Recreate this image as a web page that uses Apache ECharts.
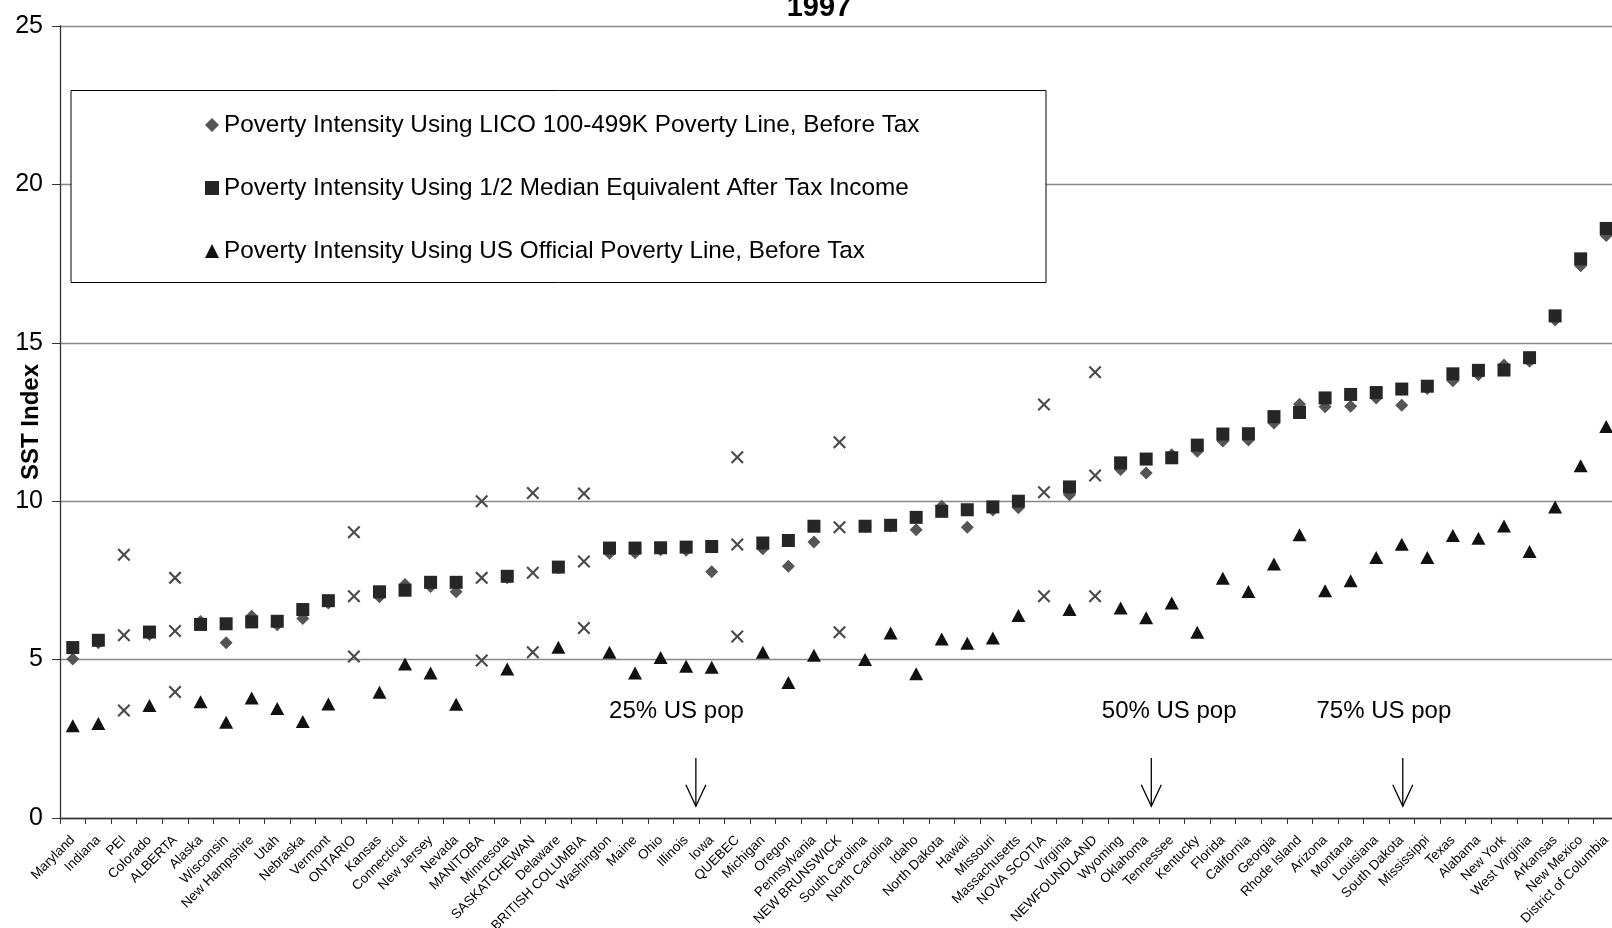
<!DOCTYPE html>
<html><head><meta charset="utf-8">
<script src="https://cdn.jsdelivr.net/npm/echarts@6/dist/echarts.min.js"></script>
<style>html,body{margin:0;padding:0;background:#fff}#c{width:1612px;height:928px}</style>
</head><body><div id="c"></div>
<script>
const chartTitle = '1997';
const yAxisName = 'SST Index';
const categories = ['Maryland','Indiana','PEI','Colorado','ALBERTA','Alaska','Wisconsin','New Hampshire','Utah','Nebraska','Vermont','ONTARIO','Kansas','Connecticut','New Jersey','Nevada','MANITOBA','Minnesota','SASKATCHEWAN','Delaware','BRITISH COLUMBIA','Washington','Maine','Ohio','Illinois','Iowa','QUEBEC','Michigan','Oregon','Pennsylvania','NEW BRUNSWICK','South Carolina','North Carolina','Idaho','North Dakota','Hawaii','Missouri','Massachusetts','NOVA SCOTIA','Virginia','NEWFOUNDLAND','Wyoming','Oklahoma','Tennessee','Kentucky','Florida','California','Georgia','Rhode Island','Arizona','Montana','Louisiana','South Dakota','Mississippi','Texas','Alabama','New York','West Virginia','Arkansas','New Mexico','District of Columbia'];
const seriesNames = ['Poverty Intensity Using LICO 100-499K Poverty Line, Before Tax','Poverty Intensity Using 1/2 Median Equivalent After Tax Income','Poverty Intensity Using US Official Poverty Line, Before Tax'];
const licoBeforeTax = [5.02,5.53,null,5.79,null,6.2,5.53,6.37,6.1,6.3,6.79,null,6.98,7.37,7.31,7.14,null,7.58,null,7.9,null,8.36,8.37,8.47,8.45,7.77,null,8.5,7.95,8.71,null,9.2,9.22,9.1,9.84,9.18,9.72,9.79,null,10.2,null,11.0,10.89,11.47,11.58,11.9,11.93,12.47,13.06,12.98,13.0,13.26,13.03,13.56,13.8,13.99,14.3,14.42,15.72,17.43,18.39];
const halfMedianAfterTax = [5.38,5.61,null,5.87,null,6.11,6.13,6.19,6.21,6.58,6.86,null,7.14,7.19,7.44,7.44,null,7.63,null,7.92,null,8.52,8.52,8.53,8.55,8.57,null,8.68,8.76,9.21,null,9.21,9.24,9.49,9.68,9.73,9.82,10.0,null,10.45,null,11.21,11.33,11.37,11.77,12.12,12.13,12.67,12.8,13.26,13.37,13.43,13.54,13.63,14.02,14.13,14.14,14.53,15.85,17.65,18.61];
const usOfficialBeforeTax = [2.91,2.98,null,3.55,null,3.67,3.02,3.79,3.46,3.05,3.6,null,3.97,4.86,4.58,3.59,null,4.70,null,5.39,null,5.23,4.58,5.07,4.79,4.76,null,5.23,4.28,5.14,null,5.0,5.84,4.55,5.65,5.52,5.68,6.39,null,6.58,null,6.63,6.32,6.79,5.86,7.57,7.15,8.02,8.94,7.17,7.49,8.22,8.64,8.22,8.92,8.83,9.22,8.41,9.82,11.12,12.36];
const provinces = ['PEI','ALBERTA','ONTARIO','MANITOBA','SASKATCHEWAN','BRITISH COLUMBIA','QUEBEC','NEW BRUNSWICK','NOVA SCOTIA','NEWFOUNDLAND'];
const provinceHigh = [8.31,7.58,9.02,10.0,10.26,10.24,11.39,11.86,13.05,14.07];
const provinceMid = [5.77,5.9,7.0,7.58,7.74,8.1,8.63,9.18,10.28,10.81];
const provinceLow = [3.39,3.98,5.1,4.97,5.23,6.0,5.73,5.86,7.0,7.0];
const yMin = 0, yMax = 25, yStep = 5;
const popLabels = ['25% US pop','50% US pop','75% US pop'];

const FONT = 'Liberation Sans';
const crossPath = 'path://M0,1.4L1.4,0L6,4.6L10.6,0L12,1.4L7.4,6L12,10.6L10.6,12L6,7.4L1.4,12L0,10.6L4.6,6Z';
const fix = a => a.map(v => v == null ? '-' : v);
const provSeries = (vals, nm) => ({
  type:'scatter', name:nm, data: provinces.map((p,i)=>[p, vals[i]]),
  symbol: crossPath, symbolSize: 13, itemStyle:{color:'#4a4a4a', opacity:1}, z:5, silent:true
});

const chart = echarts.init(document.getElementById('c'), null, {renderer:'canvas'});
const option = {
  animation:false,
  backgroundColor:'#fff',
  textStyle:{fontFamily:FONT},
  grid:{left:60, right:-7, top:26, bottom:110, containLabel:false, outerBoundsMode:'none'},
  legend:{
    data:[{name:seriesNames[0], icon:'diamond'},{name:seriesNames[1], icon:'rect'},{name:seriesNames[2], icon:'triangle'}],
    orient:'vertical', left:205, top:112, itemWidth:14, itemHeight:14, itemGap:37, padding:0,
    selectedMode:false, z:60,
    textStyle:{fontSize:24.3, lineHeight:26, color:'#000', fontFamily:FONT}
  },
  xAxis:{
    type:'category', data:categories, boundaryGap:true,
    axisLine:{lineStyle:{color:'#333', width:1.3}},
    axisTick:{show:true, interval:0, length:6, lineStyle:{color:'#333'}},
    axisLabel:{interval:0, rotate:45, fontSize:13.5, color:'#000', margin:20, fontFamily:FONT},
    splitLine:{show:false}
  },
  yAxis:{
    type:'value', min:yMin, max:yMax, interval:yStep,
    name:yAxisName, nameLocation:'middle', nameRotate:90, nameGap:17, nameMoveOverlap:false,
    nameTextStyle:{fontSize:24, fontWeight:'bold', color:'#000', fontFamily:FONT},
    axisLine:{show:true, lineStyle:{color:'#333', width:1.3}},
    axisTick:{show:true, length:8, lineStyle:{color:'#333'}},
    axisLabel:{fontSize:25, color:'#000', margin:17, fontFamily:FONT},
    splitLine:{show:true, lineStyle:{color:'#888', width:1.3}}
  },
  series:[
    {type:'scatter', name:seriesNames[0], data:fix(licoBeforeTax), symbol:'diamond', symbolSize:13, itemStyle:{color:'#555', opacity:1}, z:2},
    {type:'scatter', name:seriesNames[1], data:fix(halfMedianAfterTax), symbol:'rect', symbolSize:13, itemStyle:{color:'#262626', opacity:1}, z:3},
    {type:'scatter', name:seriesNames[2], data:fix(usOfficialBeforeTax), symbol:'triangle', symbolSize:[14,13], itemStyle:{color:'#111', opacity:1}, z:3},
    provSeries(provinceHigh,'Canada A'),
    provSeries(provinceMid,'Canada B'),
    provSeries(provinceLow,'Canada C')
  ]
};
chart.setOption(option);

// annotation layout (category-index positions, y-values)
const annLayout = [
  {textIdx:23.62, arrowIdx:24.38},
  {textIdx:42.9, arrowIdx:42.2},
  {textIdx:51.3, arrowIdx:52.04}
];
function px(idx, val){
  const i0 = Math.floor(idx), f = idx - i0;
  const a = chart.convertToPixel({gridIndex:0}, [i0, val]);
  const b = chart.convertToPixel({gridIndex:0}, [i0+1, val]);
  return [a[0] + (b[0]-a[0])*f, a[1]];
}
const els = [
  {type:'rect', id:'legendBox', shape:{x:71, y:90.5, width:975, height:192}, style:{fill:'#fff', stroke:'#000', lineWidth:1}, z:50, silent:true},
  {type:'text', id:'title', x:819, y:8, style:{text:chartTitle, font:'bold 29px "Liberation Sans"', fill:'#000', align:'center', verticalAlign:'middle'}, z:50}
];
popLabels.forEach((lbl, k) => {
  const L = annLayout[k];
  const t = px(L.textIdx, 3.38);
  els.push({type:'text', id:'ann'+k, x:t[0], y:t[1], style:{text:lbl, font:'24px "Liberation Sans"', fill:'#000', align:'center', verticalAlign:'middle'}, z:50});
  const top = px(L.arrowIdx, 1.89), bot = px(L.arrowIdx, 0.37), head = px(L.arrowIdx, 1.05);
  els.push({type:'line', id:'arrV'+k, shape:{x1:top[0], y1:top[1], x2:bot[0], y2:bot[1]}, style:{stroke:'#000', lineWidth:1.3}, z:50});
  els.push({type:'polyline', id:'arrH'+k, shape:{points:[[head[0]-10, head[1]],[bot[0], bot[1]],[head[0]+10, head[1]]]}, style:{stroke:'#000', lineWidth:1.3, fill:null}, z:50});
});
chart.setOption({graphic:{elements:els}});
</script>
</body></html>
